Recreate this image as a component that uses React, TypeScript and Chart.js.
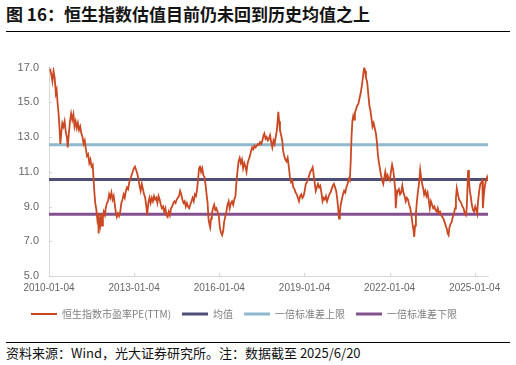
import React, { useEffect, useRef } from 'react';
import { Chart, registerables } from 'chart.js';

Chart.register(...registerables);

// decimal-year positions of the sampled PE readings
const years = [
  2010.00, 2010.04, 2010.08, 2010.12, 2010.16, 2010.20, 2010.24, 2010.27, 2010.30, 2010.33,
  2010.36, 2010.40, 2010.43, 2010.47, 2010.51, 2010.55, 2010.59, 2010.63, 2010.66, 2010.70,
  2010.74, 2010.78, 2010.82, 2010.86, 2010.90, 2010.94, 2010.98, 2011.02, 2011.06, 2011.10,
  2011.14, 2011.18, 2011.22, 2011.26, 2011.30, 2011.34, 2011.38, 2011.42, 2011.46, 2011.50,
  2011.54, 2011.57, 2011.60, 2011.63, 2011.67, 2011.70, 2011.73, 2011.75, 2011.78, 2011.81,
  2011.84, 2011.87, 2011.90, 2011.93, 2011.97, 2012.00, 2012.04, 2012.08, 2012.12, 2012.16,
  2012.20, 2012.24, 2012.28, 2012.32, 2012.36, 2012.39, 2012.43, 2012.47, 2012.51, 2012.55,
  2012.59, 2012.63, 2012.67, 2012.71, 2012.75, 2012.79, 2012.83, 2012.87, 2012.91, 2012.95,
  2012.99, 2013.03, 2013.07, 2013.11, 2013.15, 2013.19, 2013.23, 2013.27, 2013.31, 2013.35,
  2013.39, 2013.43, 2013.46, 2013.50, 2013.54, 2013.58, 2013.62, 2013.66, 2013.70, 2013.74,
  2013.78, 2013.82, 2013.86, 2013.90, 2013.94, 2013.98, 2014.02, 2014.06, 2014.10, 2014.14,
  2014.18, 2014.22, 2014.26, 2014.30, 2014.34, 2014.38, 2014.42, 2014.46, 2014.50, 2014.54,
  2014.58, 2014.62, 2014.66, 2014.70, 2014.74, 2014.78, 2014.82, 2014.86, 2014.90, 2014.94,
  2014.98, 2015.02, 2015.06, 2015.10, 2015.14, 2015.18, 2015.22, 2015.26, 2015.29, 2015.32,
  2015.36, 2015.40, 2015.44, 2015.48, 2015.52, 2015.56, 2015.59, 2015.62, 2015.65, 2015.68,
  2015.71, 2015.74, 2015.78, 2015.82, 2015.86, 2015.90, 2015.94, 2015.98, 2016.02, 2016.06,
  2016.10, 2016.14, 2016.17, 2016.21, 2016.25, 2016.29, 2016.33, 2016.37, 2016.41, 2016.45,
  2016.49, 2016.53, 2016.57, 2016.60, 2016.64, 2016.68, 2016.72, 2016.76, 2016.80, 2016.84,
  2016.88, 2016.92, 2016.96, 2017.00, 2017.04, 2017.08, 2017.12, 2017.16, 2017.20, 2017.24,
  2017.28, 2017.32, 2017.36, 2017.40, 2017.44, 2017.48, 2017.52, 2017.56, 2017.59, 2017.63,
  2017.67, 2017.71, 2017.75, 2017.79, 2017.83, 2017.87, 2017.91, 2017.95, 2017.99, 2018.03,
  2018.06, 2018.08, 2018.11, 2018.14, 2018.18, 2018.22, 2018.25, 2018.29, 2018.33, 2018.37,
  2018.41, 2018.45, 2018.49, 2018.53, 2018.57, 2018.61, 2018.65, 2018.69, 2018.73, 2018.77,
  2018.81, 2018.85, 2018.89, 2018.93, 2018.97, 2019.01, 2019.05, 2019.09, 2019.13, 2019.17,
  2019.21, 2019.25, 2019.29, 2019.32, 2019.36, 2019.40, 2019.44, 2019.48, 2019.52, 2019.56,
  2019.60, 2019.64, 2019.68, 2019.72, 2019.76, 2019.80, 2019.84, 2019.88, 2019.92, 2019.96,
  2020.00, 2020.04, 2020.08, 2020.12, 2020.16, 2020.19, 2020.22, 2020.25, 2020.28, 2020.32,
  2020.36, 2020.40, 2020.44, 2020.48, 2020.52, 2020.56, 2020.60, 2020.63, 2020.66, 2020.69,
  2020.72, 2020.75, 2020.78, 2020.82, 2020.86, 2020.90, 2020.94, 2020.98, 2021.02, 2021.06,
  2021.09, 2021.11, 2021.14, 2021.17, 2021.21, 2021.25, 2021.29, 2021.33, 2021.37, 2021.40,
  2021.44, 2021.48, 2021.52, 2021.55, 2021.59, 2021.62, 2021.66, 2021.70, 2021.74, 2021.78,
  2021.82, 2021.85, 2021.89, 2021.93, 2021.97, 2022.01, 2022.05, 2022.09, 2022.13, 2022.17,
  2022.20, 2022.22, 2022.25, 2022.29, 2022.33, 2022.37, 2022.41, 2022.45, 2022.49, 2022.53,
  2022.57, 2022.61, 2022.65, 2022.69, 2022.73, 2022.77, 2022.81, 2022.84, 2022.87, 2022.90,
  2022.93, 2022.96, 2022.99, 2023.03, 2023.06, 2023.08, 2023.11, 2023.15, 2023.19, 2023.22,
  2023.26, 2023.30, 2023.34, 2023.38, 2023.42, 2023.46, 2023.50, 2023.54, 2023.58, 2023.62,
  2023.66, 2023.70, 2023.74, 2023.78, 2023.82, 2023.86, 2023.90, 2023.94, 2023.98, 2024.02,
  2024.05, 2024.08, 2024.11, 2024.15, 2024.19, 2024.23, 2024.27, 2024.31, 2024.34, 2024.37,
  2024.41, 2024.45, 2024.49, 2024.53, 2024.57, 2024.61, 2024.65, 2024.69, 2024.72, 2024.75,
  2024.77, 2024.80, 2024.83, 2024.87, 2024.90, 2024.94, 2024.98, 2025.02, 2025.06, 2025.09,
  2025.12, 2025.16, 2025.20, 2025.24, 2025.27, 2025.29, 2025.32, 2025.36, 2025.40, 2025.44,
  2025.47,
];

// 恒生指数市盈率PE(TTM)
const peValues = [
  17.0, 16.9, 16.6, 16.2, 16.8, 16.4, 15.5, 15.7, 15.0, 14.5,
  13.8, 12.6, 13.2, 13.8, 13.6, 13.9, 13.3, 13.0, 12.4, 13.2,
  13.9, 14.35, 14.0, 14.3, 13.6, 13.9, 13.5, 13.8, 13.4, 13.6,
  13.2, 13.0, 12.6, 12.8, 12.3, 11.9, 12.0, 11.5, 11.7, 11.3,
  11.4, 10.6, 9.8, 9.2, 8.8, 8.3, 8.6, 7.45, 8.4, 8.0,
  8.6, 7.9, 8.4, 8.7, 8.5, 8.9, 9.2, 9.3, 9.7, 9.5,
  9.8, 9.4, 9.6, 9.1, 8.6, 8.4, 8.6, 8.45, 8.7, 9.2,
  9.4, 9.7, 9.5, 9.9, 10.1, 10.0, 10.4, 10.6, 10.8, 11.0,
  11.2, 11.3, 11.1, 10.9, 10.6, 10.2, 9.9, 10.3, 10.0, 9.7,
  9.5, 9.0, 8.5, 9.2, 9.5, 9.2, 9.5, 9.3, 9.6, 9.4,
  9.5, 9.2, 9.6, 9.4, 9.1, 8.9, 9.0, 8.7, 8.9, 8.5,
  8.4, 8.7, 8.5, 8.9, 9.0, 9.2, 9.3, 9.2, 9.4, 9.5,
  9.6, 9.9, 9.7, 9.4, 9.2, 9.3, 9.0, 9.2, 9.0, 8.9,
  9.1, 9.3, 9.5, 9.3, 9.7, 9.6, 10.0, 10.7, 11.2, 11.35,
  11.0, 11.2, 10.8, 10.7, 10.2, 9.6, 9.2, 8.3, 8.0, 7.8,
  8.3, 8.6, 8.9, 9.1, 8.8, 8.9, 8.7, 8.5, 7.8, 7.5,
  7.35, 7.6, 8.1, 8.4, 8.7, 9.1, 9.3, 8.9, 9.2, 9.3,
  9.1, 9.4, 9.6, 10.3, 11.0, 11.6, 11.8, 11.5, 11.7, 11.2,
  11.5, 11.3, 11.0, 11.5, 11.7, 11.9, 12.2, 12.4, 12.3, 12.5,
  12.4, 12.5, 12.6, 12.55, 12.7, 12.6, 12.8, 13.1, 13.2, 12.9,
  13.0, 12.8, 12.9, 13.1, 12.7, 12.4, 12.8, 12.6, 13.0, 13.4,
  14.0, 14.45, 13.9, 13.4, 13.1, 12.8, 12.2, 11.9, 11.7, 11.6,
  11.8, 11.3, 10.7, 10.4, 10.5, 10.1, 10.0, 9.8, 9.7, 9.5,
  9.3, 9.6, 9.7, 9.5, 9.6, 9.9, 10.3, 10.4, 10.6, 10.8,
  11.0, 11.1, 11.25, 10.9, 10.4, 9.9, 10.1, 10.3, 10.1, 10.2,
  9.8, 9.3, 9.5, 9.4, 9.6, 9.3, 9.5, 9.7, 9.8, 10.0,
  10.2, 10.3, 10.1, 9.9, 9.4, 8.9, 8.3, 8.6, 9.1, 9.4,
  9.7, 9.9, 9.8, 10.1, 10.3, 10.6, 10.5, 11.5, 13.0, 13.9,
  14.2, 14.0, 14.4, 14.6, 14.8, 14.9, 15.2, 15.5, 15.9, 16.4,
  16.8, 17.0, 16.8, 16.4, 16.2, 15.5, 14.8, 14.5, 14.0, 13.6,
  13.8, 13.5, 13.2, 12.8, 12.0, 11.6, 11.2, 10.8, 10.5, 10.3,
  10.7, 11.0, 10.6, 10.8, 10.6, 10.5, 11.0, 11.4, 11.1, 10.5,
  10.0, 8.9, 9.6, 9.9, 10.0, 9.7, 9.8, 10.2, 9.8, 9.6,
  9.3, 9.5, 9.4, 9.1, 8.9, 8.5, 8.0, 7.7, 7.25, 7.9,
  8.6, 9.2, 9.7, 10.2, 10.7, 11.1, 10.7, 10.3, 10.0, 9.7,
  9.9, 9.6, 9.8, 9.4, 8.9, 9.3, 9.1, 8.9, 9.0, 8.8,
  8.7, 8.9, 8.6, 8.7, 8.5, 8.4, 8.3, 8.1, 7.9, 7.7,
  7.45, 7.35, 7.8, 8.0, 8.1, 8.4, 8.6, 8.9, 9.5, 10.05,
  9.7, 9.4, 9.3, 9.2, 9.0, 8.9, 8.6, 8.5, 8.9, 10.2,
  11.1, 10.5, 9.9, 9.5, 9.1, 8.8, 8.7, 9.0, 8.8, 8.6,
  9.3, 9.9, 10.3, 10.4, 10.5, 8.9, 9.6, 10.2, 10.5, 10.7,
  10.5,
];

const meanValue = 10.55;
const upperValue = 12.55;
const lowerValue = 8.55;

const xTickYears = [2010, 2013, 2016, 2019, 2022, 2025];
const xTickLabels = ['2010-01-04', '2013-01-04', '2016-01-04', '2019-01-04', '2022-01-04', '2025-01-04'];
const yTickValues = [5, 7, 9, 11, 13, 15, 17];

const seriesNames = ['恒生指数市盈率PE(TTM)', '均值', '一倍标准差上限', '一倍标准差下限'];
const seriesColors = ['#CA4822', '#4E4F76', '#8FB7CE', '#83508E'];
const seriesWidths = [1.8, 3, 3, 3];

const cjkFont = "'Noto Sans CJK SC', 'Noto Sans', sans-serif";
const latinFont = "'Liberation Sans', Arial, sans-serif";

const innerTicks = {
  id: 'innerTicks',
  afterDraw(chart: any) {
    const { ctx, chartArea, scales } = chart;
    ctx.save();
    ctx.strokeStyle = '#d4d4d4';
    ctx.lineWidth = 1;
    ctx.beginPath();
    yTickValues.forEach((v) => {
      const y = Math.round(scales.y.getPixelForValue(v)) + 0.5;
      ctx.moveTo(chartArea.left, y);
      ctx.lineTo(chartArea.left + 3, y);
    });
    xTickYears.forEach((v) => {
      const x = Math.round(scales.x.getPixelForValue(v)) + 0.5;
      ctx.moveTo(x, chartArea.bottom);
      ctx.lineTo(x, chartArea.bottom - 3);
    });
    ctx.stroke();
    ctx.restore();
  },
};

function ChartCanvas() {
  const ref = useRef<HTMLCanvasElement | null>(null);
  useEffect(() => {
    if (!ref.current) return;
    const first = years[0];
    const last = years[years.length - 1];
    const flat = (v: number) => [
      { x: first, y: v },
      { x: last, y: v },
    ];
    const peData = years.map((t, i) => ({ x: t, y: peValues[i] }));
    const allData = [peData, flat(meanValue), flat(upperValue), flat(lowerValue)];
    const chart = new Chart(ref.current, {
      type: 'line',
      data: {
        datasets: allData.map((d, i) => ({
          label: seriesNames[i],
          data: d,
          borderColor: seriesColors[i],
          backgroundColor: seriesColors[i],
          borderWidth: seriesWidths[i],
          pointRadius: 0,
          tension: 0,
          fill: false,
        })),
      },
      options: {
        animation: false,
        responsive: true,
        maintainAspectRatio: false,
        layout: { padding: { top: 27.5, right: 28, left: 0, bottom: 0 } },
        plugins: {
          tooltip: { enabled: false },
          legend: {
            position: 'bottom',
            labels: {
              usePointStyle: true,
              pointStyleWidth: 26,
              boxWidth: 26,
              boxHeight: 10,
              padding: 11,
              color: '#7f7f7f',
              font: { family: cjkFont, size: 10 },
              generateLabels: () =>
                seriesNames.map((name, i) => ({
                  text: name,
                  fillStyle: seriesColors[i],
                  strokeStyle: seriesColors[i],
                  lineWidth: i === 0 ? 2 : 3,
                  pointStyle: 'line',
                  datasetIndex: i,
                  hidden: false,
                  fontColor: '#7f7f7f',
                })),
            },
          },
        },
        scales: {
          x: {
            type: 'linear',
            min: first,
            max: last,
            afterBuildTicks: (scale: any) => {
              scale.ticks = xTickYears.map((v) => ({ value: v }));
            },
            afterFit: (scale: any) => {
              scale.height = scale.height - 2;
            },
            grid: { display: true, drawOnChartArea: false, drawTicks: false, color: '#d9d9d9' },
            border: { display: true, color: '#d9d9d9' },
            ticks: {
              padding: 6,
              maxRotation: 0,
              autoSkip: false,
              color: '#666666',
              font: { family: latinFont, size: 10 },
              callback: (v: any) => {
                const idx = xTickYears.indexOf(Number(v));
                return idx >= 0 ? xTickLabels[idx] : '';
              },
            },
          },
          y: {
            min: 5,
            max: 17,
            afterBuildTicks: (scale: any) => {
              scale.ticks = yTickValues.map((v) => ({ value: v }));
            },
            afterFit: (scale: any) => {
              scale.width = 49;
            },
            grid: { display: false, drawTicks: false },
            border: { display: true, color: '#d9d9d9' },
            ticks: {
              padding: 10,
              color: '#666666',
              font: { family: latinFont, size: 11 },
              callback: (v: any) => Number(v).toFixed(1),
            },
          },
        },
      },
      plugins: [innerTicks],
    } as any);
    return () => chart.destroy();
  }, []);
  return <canvas ref={ref} />;
}

export default function App() {
  return (
    <div
      style={{
        position: 'fixed',
        left: 0,
        top: 0,
        width: 516,
        height: 365,
        background: '#ffffff',
        fontFamily: cjkFont,
        overflow: 'hidden',
      }}
    >
      <div
        style={{
          position: 'absolute',
          left: 6,
          top: 3,
          fontSize: 17,
          fontWeight: 700,
          lineHeight: '22px',
          whiteSpace: 'nowrap',
          color: '#141414',
        }}
      >
        图 16：恒生指数估值目前仍未回到历史均值之上
      </div>
      <div style={{ position: 'absolute', left: 6, top: 31, width: 504, height: 1, background: '#000' }} />
      <div style={{ position: 'absolute', left: 0, top: 40, width: 516, height: 289 }}>
        <ChartCanvas />
      </div>
      <div style={{ position: 'absolute', left: 6, top: 342, width: 504, height: 1, background: '#000' }} />
      <div
        style={{
          position: 'absolute',
          left: 6,
          top: 344,
          fontSize: 13,
          lineHeight: '18px',
          whiteSpace: 'nowrap',
          color: '#111',
        }}
      >
        资料来源：Wind，光大证券研究所。注：数据截至 2025/6/20
      </div>
    </div>
  );
}
